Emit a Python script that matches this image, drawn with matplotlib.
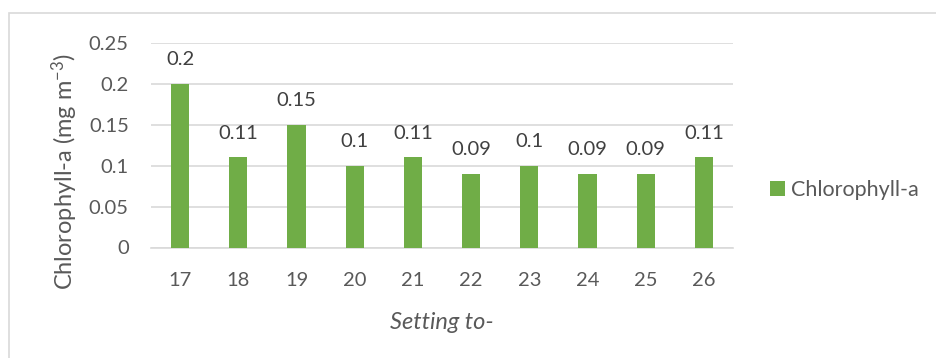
import matplotlib.pyplot as plt
from matplotlib.patches import Rectangle

settings = ["17", "18", "19", "20", "21", "22", "23", "24", "25", "26"]
chlorophyll = [0.2, 0.11, 0.15, 0.1, 0.11, 0.09, 0.1, 0.09, 0.09, 0.11]
value_labels = ["0.2", "0.11", "0.15", "0.1", "0.11", "0.09", "0.1", "0.09", "0.09", "0.11"]
y_ticks = [0, 0.05, 0.1, 0.15, 0.2, 0.25]
y_tick_labels = ["0", "0.05", "0.1", "0.15", "0.2", "0.25"]

green = "#70AD47"
text_grey = "#595959"
grid_grey = "#D9D9D9"

plt.rcParams["font.family"] = ["Lato", "DejaVu Sans"]
plt.rcParams["mathtext.fontset"] = "custom"
plt.rcParams["mathtext.rm"] = "Lato"
plt.rcParams["mathtext.default"] = "regular"

fig = plt.figure(figsize=(9.36, 3.58), dpi=100)
ax = fig.add_axes([151 / 936, 1 - 247.5 / 358, 582 / 936, 204.8 / 358])

# outer chart frame, running off the right and bottom edges
fig.patches.append(Rectangle((9 / 936, -0.1), 1.2, 1.1 - 13 / 358, transform=fig.transFigure,
                             fill=False, edgecolor=grid_grey, linewidth=1.2))

x = list(range(len(settings)))
bars = ax.bar(x, chlorophyll, width=0.31, color=green, label="Chlorophyll-a", zorder=3)

for xi, val, lab in zip(x, chlorophyll, value_labels):
    ax.annotate(lab, (xi, val), xytext=(0, 11), textcoords="offset points",
                ha="center", va="bottom", fontsize=14.5, color="#404040")

ax.set_xlim(-0.5, len(settings) - 0.5)
ax.set_ylim(0, 0.25)
ax.set_yticks(y_ticks)
ax.set_yticklabels(y_tick_labels)
ax.set_xticks(x)
ax.set_xticklabels(settings)
ax.tick_params(axis="both", length=0, labelsize=14.5, colors=text_grey)
ax.tick_params(axis="x", pad=18)
ax.tick_params(axis="y", pad=16)

ax.grid(axis="y", color=grid_grey, linewidth=1.2, zorder=0)
for side in ["top", "right", "left"]:
    ax.spines[side].set_visible(False)
ax.spines["bottom"].set_color(grid_grey)
ax.spines["bottom"].set_linewidth(1.2)

ax.set_ylabel(r"Chlorophyll-a (mg m$^{-3}$)", fontsize=17, color=text_grey)
ax.yaxis.set_label_coords(-0.122, 0.37)
ax.set_xlabel("Setting to-", fontsize=17, color=text_grey, style="italic", labelpad=16)

ax.legend(loc="center left", bbox_to_anchor=(1.03, 0.28), frameon=False, fontsize=15.5,
          handlelength=0.7, handleheight=0.7, handletextpad=0.3, labelcolor=text_grey)

fig.savefig("out.png", dpi=100)
